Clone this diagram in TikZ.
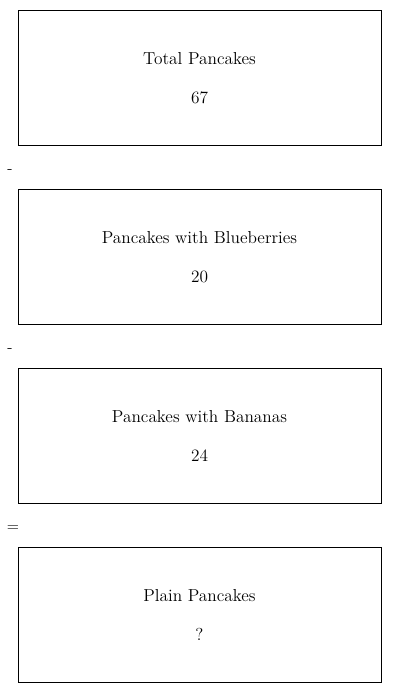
\documentclass[tikz,border=0pt]{standalone}
\usepackage{tikz}
\usetikzlibrary{calc}
\tikzset{
  qtyBox/.style={draw=black, line width=0.75pt, minimum width=272.25pt, minimum height=101.25pt, inner sep=0pt},
  qtyText/.style={font=\fontsize{13}{15}\selectfont, anchor=base, inner sep=0pt},
  opText/.style={font=\fontsize{12}{14}\selectfont, anchor=base, inner sep=0pt}
}
\begin{document}
\begin{tikzpicture}[x=0.75pt,y=-0.75pt]
  \useasboundingbox (0,0) rectangle (400,693);

  % boxes
  \node[qtyBox] (total) at (199.5,77.5) {};
  \node[qtyBox] (blue) at (199.5,256.5) {};
  \node[qtyBox] (banana) at (199.5,435.5) {};
  \node[qtyBox] (plain) at (199.5,614.5) {};

  % names and values
  \node[qtyText] (totalName) at ($(total.north)+(0,55)$) {Total Pancakes};
  \node[qtyText] (totalVal) at ($(total.north)+(0,94)$) {67};
  \node[qtyText] (blueName) at ($(blue.north)+(0,55)$) {Pancakes with Blueberries};
  \node[qtyText] (blueVal) at ($(blue.north)+(0,94)$) {20};
  \node[qtyText] (bananaName) at ($(banana.north)+(0,55)$) {Pancakes with Bananas};
  \node[qtyText] (bananaVal) at ($(banana.north)+(0,94)$) {24};
  \node[qtyText] (plainName) at ($(plain.north)+(0,55)$) {Plain Pancakes};
  \node[qtyText] (plainVal) at ($(plain.north)+(0,94)$) {?};

  % operators
  \node[opText] (minusA) at (10,173.5) {-};
  \node[opText] (minusB) at (10,352.5) {-};
  \node[opText] (equals) at (13,531) {=};
\end{tikzpicture}
\end{document}
